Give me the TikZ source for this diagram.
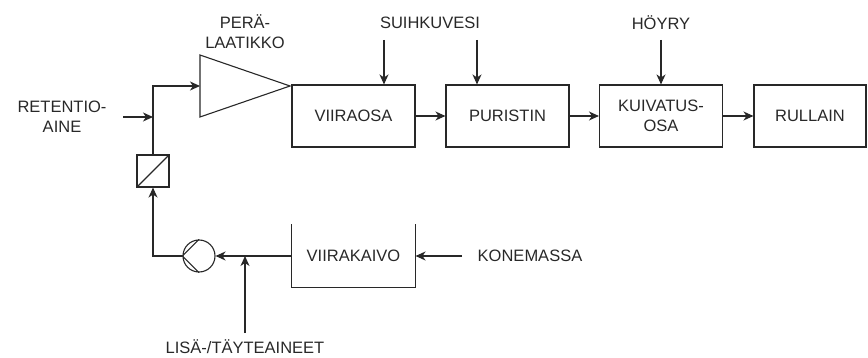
\documentclass[tikz,border=0pt]{standalone}
\usepackage{fontspec}
\setmainfont{Liberation Sans}
\usetikzlibrary{arrows.meta}
\definecolor{inkgray}{RGB}{40,40,40}

\begin{document}
\begin{tikzpicture}[x=1pt, y=-1pt, color=inkgray, line width=1.1pt,
    every node/.style={font=\fontsize{16.5}{20}\selectfont, align=center},
    unit/.style={draw, minimum width=123pt, minimum height=62pt, inner sep=0pt},
    flow/.style={-{Stealth[length=10pt, width=9pt, inset=3pt]}}]
    \useasboundingbox (0,0) rectangle (868,358);
    % Process line
    \node[unit] (viiraosa) at (353.5,116) {VIIRAOSA};
    \node[unit] (puristin) at (507.5,116) {PURISTIN};
    \node[unit] (kuivatus) at (661,116) {KUIVATUS-\\OSA};
    \node[unit, minimum width=112pt] (rullain) at (810,116) {RULLAIN};
    \draw[flow] (viiraosa) -- (puristin);
    \draw[flow] (puristin) -- (kuivatus);
    \draw[flow] (kuivatus) -- (rullain);
    % Headbox
    \coordinate (peratop) at (200,55);
    \coordinate (perain) at (200,86);
    \coordinate (peratip) at (290,86);
    \coordinate (perabot) at (200,117);
    \draw (peratop) -- (peratip) -- (perabot) -- cycle;
    \node (peralbl) at (245,32) {PERÄ-\\LAATIKKO};
    % Inputs from above
    \node (suihlbl) at (430,23) {SUIHKUVESI};
    \node (hoylbl) at (661,23) {HÖYRY};
    \coordinate (suih1) at (384,40);
    \coordinate (suih2) at (477,40);
    \coordinate (hoyry) at (661,40);
    \draw[flow] (suih1) -- (suih1 |- viiraosa.north);
    \draw[flow] (suih2) -- (suih2 |- puristin.north);
    \draw[flow] (hoyry) -- (kuivatus.north);
    % Short circulation
    \node[draw, minimum size=32pt, inner sep=0pt] (suodatin) at (153,171) {};
    \draw (suodatin.south west) -- (suodatin.north east);
    \node[draw, circle, minimum size=32pt, inner sep=0pt] (pumppu) at (199,256) {};
    \draw (pumppu.north) -- (pumppu.west) -- (pumppu.south);
    \node[minimum width=123pt, minimum height=62pt] (kaivo) at (353.5,256) {VIIRAKAIVO};
    \draw (kaivo.north west) -- (kaivo.south west) -- (kaivo.south east) -- (kaivo.north east);
    \node (konelbl) at (530,256) {KONEMASSA};
    \node (lisalbl) at (245,347) {LISÄ-/TÄYTEAINEET};
    \node (retlbl) at (62,117) {RETENTIO-\\AINE};
    \coordinate (konealku) at (462,256);
    \coordinate (lisaalku) at (245,333);
    \coordinate (retalku) at (123,117);
    \draw[flow] (konealku) -- (kaivo.east);
    \draw[flow] (kaivo.west) -- (pumppu.east);
    \draw[flow] (lisaalku) -- (lisaalku |- pumppu.east);
    \draw[flow] (pumppu.west) -| (suodatin.south);
    \draw[flow] (suodatin.north) |- (perain);
    \draw[flow] (retalku) -- (retalku -| suodatin.north);
\end{tikzpicture}
\end{document}
